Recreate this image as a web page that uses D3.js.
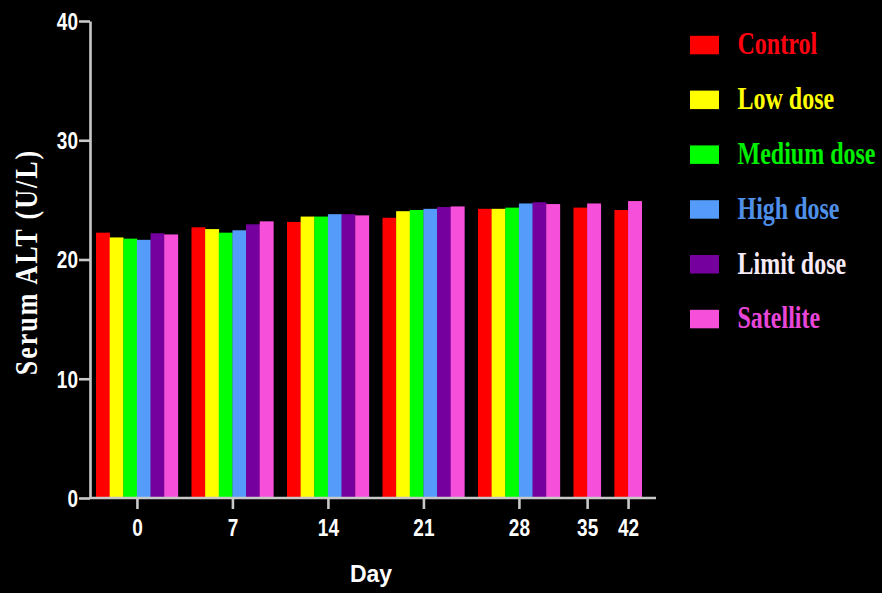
<!DOCTYPE html>
<html>
<head>
<meta charset="utf-8">
<script src="https://cdn.jsdelivr.net/npm/d3@7/dist/d3.min.js"></script>
<style>
  html, body { margin: 0; padding: 0; background: #000; }
  svg { display: block; }
</style>
</head>
<body>
<svg id="chart" width="882" height="593"></svg>
<script>
// ---- data ----
const days = ["0", "7", "14", "21", "28", "35", "42"];
const seriesNames = ["Control", "Low dose", "Medium dose", "High dose", "Limit dose", "Satellite"];
const barColors = ["#ff0000", "#ffff00", "#00ff00", "#559cfa", "#76009e", "#f64fd9"];
const textColors = ["#ff0010", "#ffff00", "#00ee00", "#4f8fe8", "#f6eaf6", "#e846d8"];
const control   = [22.25, 22.7, 23.15, 23.5, 24.25, 24.35, 24.15];
const lowDose   = [21.85, 22.55, 23.6, 24.05, 24.25, null, null];
const medDose   = [21.75, 22.25, 23.6, 24.15, 24.35, null, null];
const highDose  = [21.65, 22.45, 23.8, 24.25, 24.7, null, null];
const limitDose = [22.2, 22.95, 23.8, 24.4, 24.8, null, null];
const satellite = [22.1, 23.2, 23.7, 24.45, 24.65, 24.7, 24.9];
const yTicks = [0, 10, 20, 30, 40];

const values = [control, lowDose, medDose, highDose, limitDose, satellite];

// ---- build bar list & slots ----
const bars = [];
const slots = [];
days.forEach((day, i) => {
  seriesNames.forEach((s, j) => {
    const v = values[j][i];
    if (v != null) {
      const key = day + "|" + s;
      bars.push({ key, day, series: j, value: v });
      slots.push(key);
    }
  });
  if (i < days.length - 1) slots.push("gap" + i);
});

const svg = d3.select("#chart");

const x = d3.scaleBand().domain(slots).range([96, 641.7]).paddingInner(0).paddingOuter(0);
const y = d3.scaleLinear().domain([0, 40]).range([498, 21]);

// group centers for x ticks
const centers = days.map(day => {
  const b = bars.filter(d => d.day === day);
  const x0 = x(b[0].key), x1 = x(b[b.length - 1].key) + x.bandwidth();
  return (x0 + x1) / 2;
});
const xTickScale = d3.scaleOrdinal().domain(days).range(centers);

// ---- bars ----
svg.append("g").selectAll("rect")
  .data(bars)
  .join("rect")
  .attr("x", d => x(d.key))
  .attr("width", x.bandwidth() + 0.3)
  .attr("y", d => y(d.value))
  .attr("height", d => y(0) - y(d.value))
  .attr("fill", d => barColors[d.series]);

const axisColor = "#c8c8c8";

// ---- y axis ----
const yAxis = svg.append("g")
  .attr("transform", "translate(90,0)")
  .call(d3.axisLeft(y).tickValues(yTicks).tickSize(11).tickSizeOuter(0).tickPadding(1));
yAxis.select(".domain").attr("stroke", axisColor).attr("stroke-width", 2.6);
yAxis.selectAll(".tick line").attr("stroke", axisColor).attr("stroke-width", 2.6);
yAxis.selectAll(".tick text")
  .attr("fill", "#fff")
  .attr("font-family", "Liberation Sans, Arial, sans-serif")
  .attr("font-weight", "bold")
  .attr("font-size", 19)
  .attr("dy", "0.36em")
  .attr("transform", "scale(1,1.22)");

// ---- x axis ----
svg.append("line")
  .attr("x1", 90).attr("x2", 656)
  .attr("y1", y(0)).attr("y2", y(0))
  .attr("stroke", axisColor).attr("stroke-width", 2.6);
const xAxis = svg.append("g")
  .attr("transform", `translate(0,${y(0)})`)
  .call(d3.axisBottom(xTickScale).tickSize(11).tickSizeOuter(0).tickPadding(7));
xAxis.select(".domain").remove();
xAxis.selectAll(".tick line").attr("stroke", axisColor).attr("stroke-width", 2.6);
xAxis.selectAll(".tick text")
  .attr("fill", "#fff")
  .attr("font-family", "Liberation Sans, Arial, sans-serif")
  .attr("font-weight", "bold")
  .attr("font-size", 19)
  .attr("transform", "scale(1,1.22)");

// ---- axis titles ----
svg.append("text")
  .attr("transform", "translate(371,582)")
  .attr("text-anchor", "middle")
  .attr("fill", "#fff")
  .attr("font-family", "Liberation Sans, Arial, sans-serif")
  .attr("font-weight", "bold")
  .attr("font-size", 23)
  .text("Day");

svg.append("text")
  .attr("transform", "translate(37,262) rotate(-90) scale(1,1.25)")
  .attr("text-anchor", "middle")
  .attr("fill", "#fff")
  .attr("font-family", "Liberation Serif, Times New Roman, serif")
  .attr("font-weight", "bold")
  .attr("font-size", 26)
  .attr("letter-spacing", 2)
  .text("Serum ALT (U/L)");

// ---- legend ----
const legend = svg.append("g");
seriesNames.forEach((s, i) => {
  const base = 54.3 + i * 54.8;
  legend.append("rect")
    .attr("x", 690).attr("y", base - 18.5)
    .attr("width", 29).attr("height", 18.5)
    .attr("fill", barColors[i]);
  legend.append("text")
    .attr("transform", `translate(737.5,${base}) scale(1,1.3)`)
    .attr("fill", textColors[i])
    .attr("font-family", "Liberation Serif, Times New Roman, serif")
    .attr("font-weight", "bold")
    .attr("font-size", 24)
    .text(s);
});
</script>
</body>
</html>
